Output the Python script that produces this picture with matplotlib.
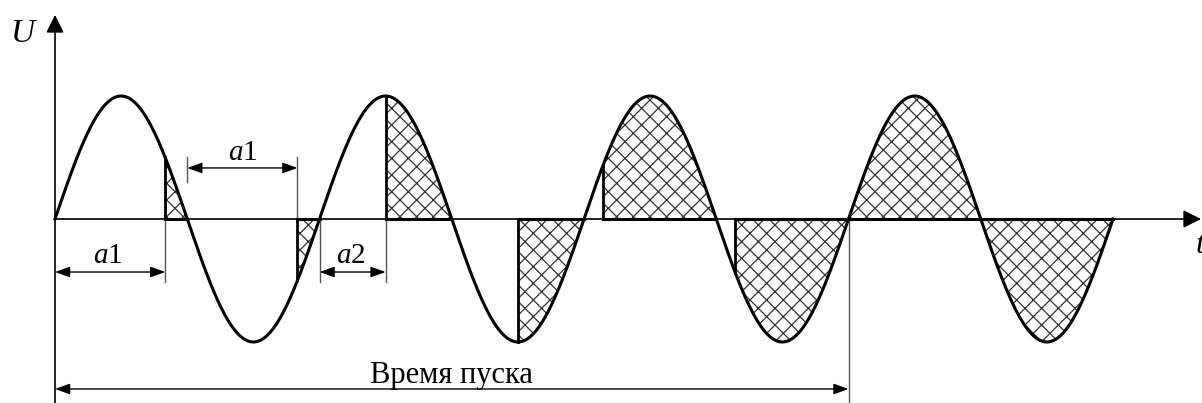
import numpy as np
import matplotlib.pyplot as plt

plt.rcParams['font.family'] = ['Liberation Serif', 'DejaVu Serif']
plt.rcParams['mathtext.fontset'] = 'custom'
plt.rcParams['mathtext.rm'] = 'Liberation Serif'
plt.rcParams['mathtext.it'] = 'Liberation Serif:italic'
plt.rcParams['hatch.linewidth'] = 0.9

# supply voltage: 4 periods, angle in electrical degrees
wave_end = 1440
amplitude = 1.0

# conducting intervals (shaded), degrees
shade_from = [150, 330, 450, 630, 746, 926, 1080, 1260]
shade_to = [180, 360, 540, 720, 900, 1080, 1260, 1440]

# firing angles shown by the dimension arrows
a1 = 150
a2 = 90
start_end = 1080  # end of the start-up time


def u_of(th):
    return amplitude * np.sin(np.radians(th))


fig = plt.figure(figsize=(12.02, 4.03), dpi=100)
ax = fig.add_axes([0, 0, 1, 1])
ax.set_xlim(-74.86, 1561.1)
ax.set_ylim(-1.496, 1.7805)
ax.axis('off')

# axes with arrows
ax.annotate('', xy=(0, 1.659), xytext=(0, -1.5),
            arrowprops=dict(arrowstyle='-|>,head_length=0.6,head_width=0.3',
                            mutation_scale=18, color='black', lw=1.2,
                            shrinkA=0, shrinkB=0))
ax.annotate('', xy=(1559.8, 0), xytext=(0, 0),
            arrowprops=dict(arrowstyle='-|>,head_length=0.6,head_width=0.3',
                            mutation_scale=18, color='black', lw=1.2,
                            shrinkA=0, shrinkB=0))
ax.text(-42, 1.439, '$U$', fontsize=24, ha='center', va='baseline')
ax.text(1551, -0.276, '$t$', fontsize=23, ha='left', va='baseline')

# shaded conduction intervals
for s, e in zip(shade_from, shade_to):
    th = np.linspace(s, e, 300)
    ax.fill_between(th, u_of(th), 0, facecolor='white', edgecolor='#333333',
                    hatch='xx', linewidth=0, zorder=2)
    ax.plot([s, s], [0, u_of(s)], color='black', lw=2.0, zorder=3)
    ax.plot([s, e], [0, 0], color='black', lw=2.2, zorder=3)

# the sine wave
theta = np.linspace(0, wave_end, 3000)
ax.plot(theta, u_of(theta), color='black', lw=2.2, zorder=4)


def dim(x0, x1, y, label=None, lx=None, ly=None, fs=21):
    ax.annotate('', xy=(x1, y), xytext=(x0, y),
                arrowprops=dict(arrowstyle='<|-|>,head_length=0.5,head_width=0.18',
                                mutation_scale=18, color='black', lw=1.0,
                                shrinkA=0, shrinkB=0))
    if label:
        ax.text(lx, ly, label, fontsize=fs, ha='center', va='baseline')


ext = dict(color='#555555', lw=1.0, zorder=1)

# a1 (first half-period)
ax.plot([a1, a1], [0, -0.512], **ext)
dim(0, a1, -0.431, '$a$1', 72, -0.358)

# a1 (second half-period)
ax.plot([180, 180], [0.504, 0.3], **ext)
ax.plot([180 + a1, 180 + a1], [0.504, 0], **ext)
dim(180, 180 + a1, 0.415, '$a$1', 255, 0.48)

# a2
ax.plot([360, 360], [0, -0.512], **ext)
ax.plot([360 + a2, 360 + a2], [0, -0.512], **ext)
dim(360, 360 + a2, -0.431, '$a$2', 402, -0.358)

# start-up time
ax.plot([start_end, start_end], [0, -1.5], **ext)
dim(0, start_end, -1.382, 'Время пуска', start_end / 2, -1.333, fs=22)

plt.savefig('out.png', dpi=100)
